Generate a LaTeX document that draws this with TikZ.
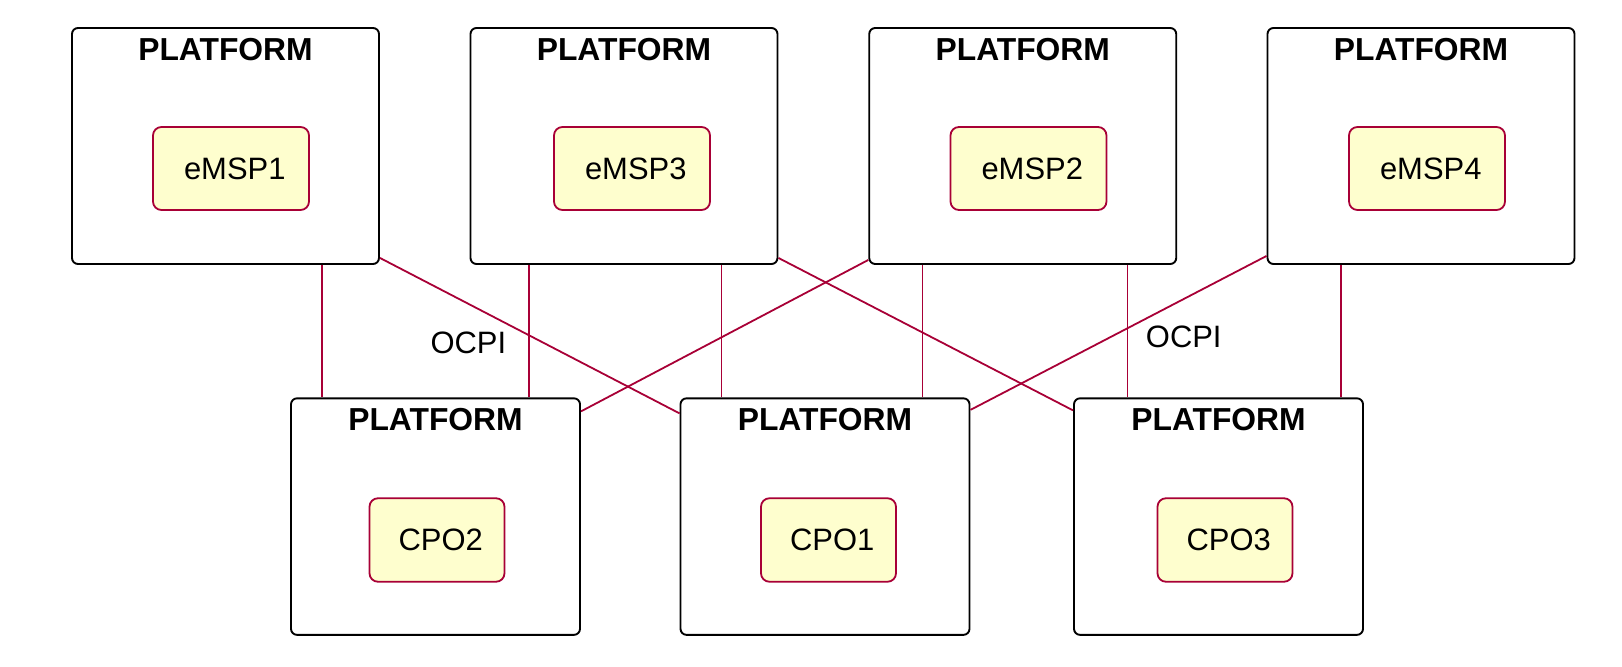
\documentclass[tikz,border=0pt]{standalone}
\usepackage{fontspec}
\setmainfont{Liberation Sans}
\definecolor{umlred}{HTML}{A80036}
\definecolor{umlfill}{HTML}{FEFECE}
\begin{document}
\begin{tikzpicture}[
        every node/.style={font=\fontsize{17.6}{21}\selectfont},
        platform/.style={draw=black,line width=0.038cm,rounded corners=0.12cm,
            minimum width=6.14cm,minimum height=4.72cm,inner sep=0pt},
        cplatform/.style={platform,minimum width=5.78cm,minimum height=4.73cm},
        title/.style={anchor=base,inner sep=0pt,font=\fontsize{18.1}{21}\selectfont\bfseries},
        role/.style={draw=umlred,fill=umlfill,line width=0.036cm,rounded corners=0.17cm,
            minimum width=3.12cm,minimum height=1.66cm,inner sep=0pt,
            execute at begin node=\hspace{0.15cm}},
        crole/.style={role,minimum width=2.7cm,minimum height=1.67cm},
        link/.style={draw=umlred,line width=0.036cm},
        ocpi/.style={inner sep=0pt}]
    \useasboundingbox (0,0) rectangle (32.44,13.34);

    \node[platform] (e1) at (4.51,10.42) {};
    \node[platform] (e3) at (12.48,10.42) {};
    \node[platform] (e2) at (20.455,10.42) {};
    \node[platform] (e4) at (28.42,10.42) {};
    \node[cplatform] (c2) at (8.71,3.008) {};
    \node[cplatform] (c1) at (16.5,3.008) {};
    \node[cplatform] (c3) at (24.37,3.008) {};

    \node[title] (t1) at ([yshift=-0.67cm]e1.north) {PLATFORM};
    \node[title] (t3) at ([yshift=-0.67cm]e3.north) {PLATFORM};
    \node[title] (t2) at ([yshift=-0.67cm]e2.north) {PLATFORM};
    \node[title] (t4) at ([yshift=-0.67cm]e4.north) {PLATFORM};
    \node[title] (tc2) at ([yshift=-0.66cm]c2.north) {PLATFORM};
    \node[title] (tc1) at ([yshift=-0.66cm]c1.north) {PLATFORM};
    \node[title] (tc3) at ([yshift=-0.66cm]c3.north) {PLATFORM};

    \node[role] (emsp1) at (4.62,9.97) {eMSP1};
    \node[role] (emsp3) at (12.64,9.97) {eMSP3};
    \node[role] (emsp2) at (20.57,9.97) {eMSP2};
    \node[role] (emsp4) at (28.54,9.97) {eMSP4};
    \node[crole] (cpo2) at (8.74,2.54) {CPO2};
    \node[crole] (cpo1) at (16.57,2.54) {CPO1};
    \node[crole] (cpo3) at (24.5,2.54) {CPO3};

    \draw[link] ([xshift=0.64cm]c2.north west) -- ([xshift=0.64cm]c2.north west |- e1.south);
    \draw[link] ([xshift=4.78cm]c2.north west |- e3.south) -- ([xshift=4.78cm]c2.north west)
        node[ocpi,pos=0.672,anchor=base east,xshift=-0.44cm] (l1) {OCPI};
    \draw[link] ([xshift=0.84cm]c1.north west) -- ([xshift=0.84cm]c1.north west |- e3.south);
    \draw[link] ([xshift=4.86cm]c1.north west) -- ([xshift=4.86cm]c1.north west |- e2.south);
    \draw[link] ([xshift=1.09cm]c3.north west |- e2.south) -- ([xshift=1.09cm]c3.north west)
        node[ocpi,pos=0.624,anchor=base west,xshift=0.35cm] (l2) {OCPI};
    \draw[link] ([xshift=5.36cm]c3.north west) -- ([xshift=5.36cm]c3.north west |- e4.south);

    \draw[link] ([yshift=0.14cm]e1.south east) -- ([yshift=-0.32cm]c1.north west);
    \draw[link] ([yshift=0.14cm]e3.south east) -- ([yshift=-0.26cm]c3.north west);
    \draw[link] ([yshift=0.10cm]e2.south west) -- ([yshift=-0.28cm]c2.north east);
    \draw[link] ([yshift=0.18cm]e4.south west) -- ([yshift=-0.25cm]c1.north east);
\end{tikzpicture}
\end{document}
